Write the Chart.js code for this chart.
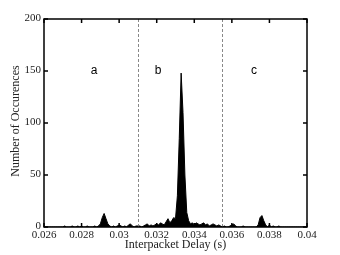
<!DOCTYPE html>
<html>
<head>
<meta charset="utf-8">
<script src="https://cdn.jsdelivr.net/npm/chart.js@4"></script>
<style>
  html, body { margin: 0; padding: 0; background: #fff; }
  #wrap { width: 340px; height: 255px; position: relative; }
</style>
</head>
<body>
<div id="wrap"><canvas id="delayChart"></canvas></div>
<script>
// Histogram bins: first bin delay and bin width (s)
var binStart = 0.026;
var binWidth = 0.0001;

// Number of occurences per bin, 0.0260 .. 0.0400
var counts = [
  0, 0, 0, 0, 0, 0, 0, 0, 0, 0,
  0, 1, 0, 0, 0, 1, 0, 0, 1, 0,
  1, 0, 0, 1, 0, 0, 0, 1, 0, 1,
  3, 9, 13, 8, 3, 1, 0, 1, 0, 1,
  2, 1, 0, 1, 0, 2, 3, 1, 0, 1,
  1, 1, 0, 1, 2, 3, 1, 2, 1, 2,
  3, 2, 4, 3, 2, 5, 8, 4, 6, 9,
  8, 30, 85, 148, 110, 50, 14, 6, 3, 4,
  2, 4, 3, 2, 3, 4, 2, 3, 1, 2,
  3, 2, 1, 2, 1, 0, 1, 0, 0, 1,
  2, 3, 1, 0, 0, 0, 1, 0, 0, 0,
  0, 0, 0, 0, 2, 9, 11, 6, 2, 0,
  2, 0, 1, 0, 0, 1, 0, 0, 0, 0,
  0, 0, 0, 0, 0, 0, 0, 0, 0, 0, 0
];

// Region boundaries and region labels
var regionLines = [0.031, 0.0355];
var regionLabels = ['a', 'b', 'c'];
var regionLabelX = [0.02866, 0.03207, 0.03718];
var regionLabelY = 150;

var xTicks = [0.026, 0.028, 0.03, 0.032, 0.034, 0.036, 0.038, 0.04];
var yTicks = [0, 50, 100, 150, 200];
var xTitle = 'Interpacket Delay (s)';
var yTitle = 'Number of Occurences';

// Build the points for the line chart
var points = [];
for (var i = 0; i < counts.length; i++) {
  points.push({ x: binStart + i * binWidth, y: counts[i] });
}

var serif = '"Liberation Serif", "Times New Roman", serif';

function tickText(v) {
  return parseFloat(v.toFixed(3)).toString();
}

// Plugin that draws the box, inward ticks, labels, dashed lines and titles
var boxPlugin = {
  id: 'boxPlugin',
  afterDatasetsDraw: function (chart) {
    var ctx = chart.ctx;
    var area = chart.chartArea;
    var xs = chart.scales.x;
    var ys = chart.scales.y;
    ctx.save();

    // dashed region lines
    ctx.strokeStyle = '#888';
    ctx.lineWidth = 1;
    ctx.setLineDash([3, 2]);
    for (var i = 0; i < regionLines.length; i++) {
      var px = Math.round(xs.getPixelForValue(regionLines[i])) + 0.5;
      ctx.beginPath();
      ctx.moveTo(px, area.top);
      ctx.lineTo(px, area.bottom);
      ctx.stroke();
    }
    ctx.setLineDash([]);

    // region labels
    ctx.fillStyle = '#000';
    ctx.font = '12px "Liberation Sans", Arial, sans-serif';
    ctx.textAlign = 'center';
    ctx.textBaseline = 'middle';
    for (var j = 0; j < regionLabels.length; j++) {
      ctx.fillText(regionLabels[j], xs.getPixelForValue(regionLabelX[j]), ys.getPixelForValue(regionLabelY));
    }

    // box
    ctx.strokeStyle = '#000';
    ctx.lineWidth = 1.5;
    ctx.strokeRect(area.left, area.top, area.right - area.left, area.bottom - area.top);

    // inward ticks and tick labels
    var len = 4;
    ctx.fillStyle = '#222';
    ctx.font = '11px ' + serif;
    ctx.textAlign = 'center';
    ctx.textBaseline = 'alphabetic';
    for (var k = 0; k < xTicks.length; k++) {
      var tx = xs.getPixelForValue(xTicks[k]);
      ctx.beginPath();
      ctx.moveTo(tx, area.bottom);
      ctx.lineTo(tx, area.bottom - len);
      ctx.moveTo(tx, area.top);
      ctx.lineTo(tx, area.top + len);
      ctx.stroke();
      ctx.fillText(tickText(xTicks[k]), tx, area.bottom + 11);
    }
    ctx.textAlign = 'right';
    ctx.textBaseline = 'middle';
    for (var m = 0; m < yTicks.length; m++) {
      var ty = ys.getPixelForValue(yTicks[m]);
      ctx.beginPath();
      ctx.moveTo(area.left, ty);
      ctx.lineTo(area.left + len, ty);
      ctx.moveTo(area.right, ty);
      ctx.lineTo(area.right - len, ty);
      ctx.stroke();
      ctx.fillText(String(yTicks[m]), area.left - 3, ty - 1);
    }

    // axis titles
    ctx.fillStyle = '#222';
    ctx.font = '12px ' + serif;
    ctx.textAlign = 'center';
    ctx.textBaseline = 'alphabetic';
    ctx.fillText(xTitle, (area.left + area.right) / 2, area.bottom + 21);

    ctx.translate(16, (area.top + area.bottom) / 2 - 2);
    ctx.rotate(-Math.PI / 2);
    ctx.textBaseline = 'middle';
    ctx.fillText(yTitle, 0, 0);
    ctx.restore();
  }
};

var ctx = document.getElementById('delayChart').getContext('2d');
var delayChart = new Chart(ctx, {
  type: 'line',
  data: {
    datasets: [{
      data: points,
      borderColor: '#000',
      backgroundColor: '#000',
      borderWidth: 1,
      pointRadius: 0,
      tension: 0,
      fill: 'origin'
    }]
  },
  options: {
    responsive: true,
    maintainAspectRatio: false,
    animation: false,
    layout: { padding: { top: 19, right: 33, left: 0, bottom: 0 } },
    plugins: {
      legend: { display: false },
      tooltip: { enabled: false }
    },
    scales: {
      x: {
        type: 'linear',
        min: 0.026,
        max: 0.04,
        afterFit: function (scale) { scale.height = 28; },
        grid: { display: false },
        border: { display: false },
        ticks: { display: false }
      },
      y: {
        min: 0,
        max: 200,
        afterFit: function (scale) { scale.width = 44; },
        grid: { display: false },
        border: { display: false },
        ticks: { display: false }
      }
    }
  },
  plugins: [boxPlugin]
});
</script>
</body>
</html>
